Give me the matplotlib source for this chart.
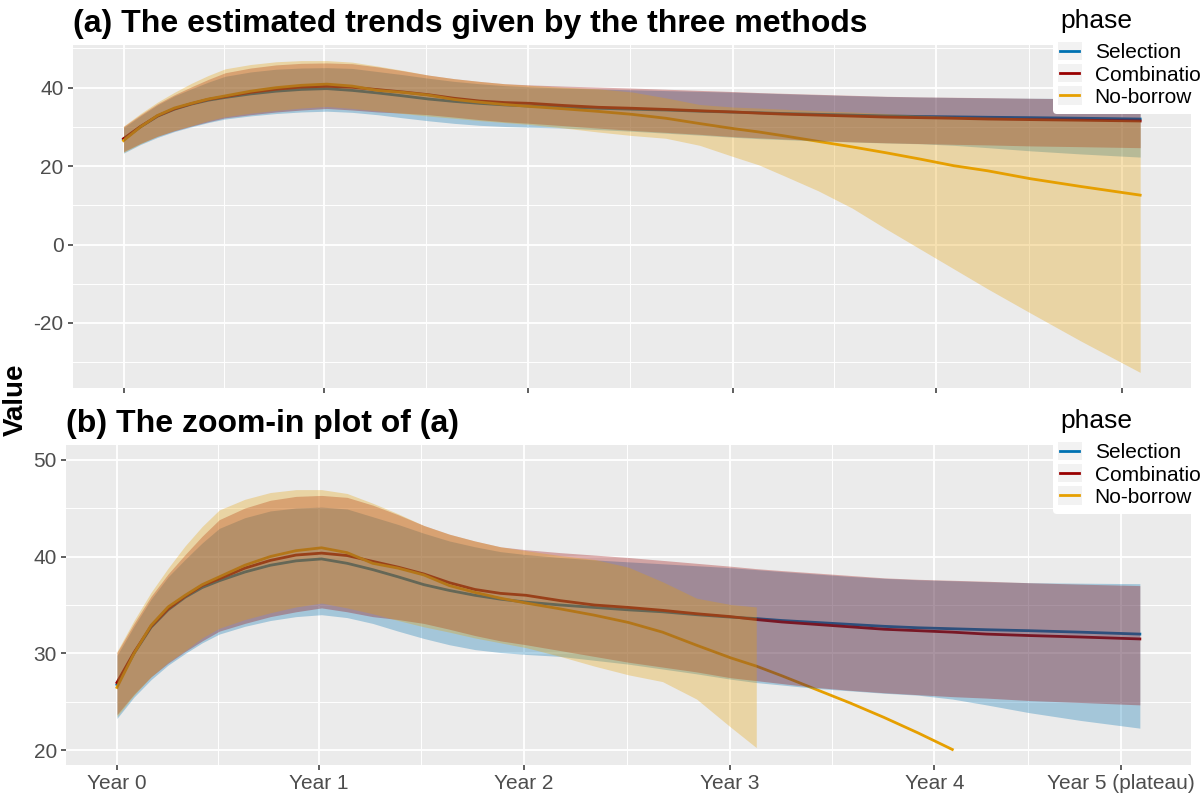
import matplotlib
matplotlib.use('Agg')
import matplotlib.pyplot as plt
import numpy as np
from matplotlib.patches import Rectangle
from matplotlib.lines import Line2D
from matplotlib.legend_handler import HandlerLine2D

plt.rcParams['font.family'] = ['Liberation Sans', 'DejaVu Sans']
plt.rcParams['axes.unicode_minus'] = False

# time axis (months since start)
months = [0, 1, 2, 3, 4, 5, 6, 7.5, 9, 10.5, 12, 13.5, 15, 16.5, 18, 19.5, 21, 22.5, 24, 26,
          28, 30, 32, 34, 36, 37.5, 39, 41, 43, 45, 47, 49, 51, 53.5, 56.5, 60]

# estimated trends
sel_mean = [26.8, 30.0, 32.7, 34.5, 35.8, 36.8, 37.5, 38.4, 39.1, 39.55, 39.75, 39.3, 38.65, 37.9, 37.1, 36.5, 36.0, 35.6, 35.3, 35.0,
            34.75, 34.5, 34.3, 34.0, 33.75, 33.6, 33.4, 33.2, 33.0, 32.8, 32.65, 32.55, 32.45, 32.35, 32.2, 32.0]
comb_mean = [27.0, 30.1, 32.8, 34.6, 35.9, 37.0, 37.7, 38.8, 39.6, 40.15, 40.35, 40.1, 39.5, 38.9, 38.2, 37.3, 36.6, 36.2, 36.0, 35.45,
             35.0, 34.75, 34.45, 34.1, 33.8, 33.5, 33.25, 33.0, 32.75, 32.5, 32.35, 32.2, 32.0, 31.85, 31.7, 31.5]
nob_mean = [26.5, 30.0, 32.9, 34.8, 36.0, 37.1, 37.9, 39.1, 40.0, 40.6, 40.9, 40.4, 39.3, 38.8, 38.1, 37.0, 36.3, 35.7, 35.2, 34.6,
            33.95, 33.2, 32.2, 30.85, 29.55, 28.7, 27.7, 26.3, 24.9, 23.4, 21.8, 20.1, 18.8, 16.8, 14.8, 12.6]

# credible bands
sel_lo = [23.3, 25.5, 27.3, 28.8, 30.0, 31.1, 32.0, 32.8, 33.4, 33.8, 34.0, 33.7, 33.1, 32.3, 31.55, 30.9, 30.4, 30.1, 29.9, 29.7,
          29.3, 28.9, 28.4, 27.9, 27.35, 27.0, 26.75, 26.4, 26.15, 25.9, 25.7, 25.3, 24.7, 23.9, 23.1, 22.3]
sel_hi = [29.8, 32.8, 35.6, 37.9, 39.7, 41.4, 42.9, 44.0, 44.7, 45.0, 45.1, 44.9, 44.1, 43.3, 42.4, 41.6, 41.0, 40.5, 40.2, 39.9,
          39.65, 39.45, 39.25, 39.05, 38.85, 38.65, 38.45, 38.2, 37.95, 37.75, 37.6, 37.5, 37.4, 37.3, 37.25, 37.2]
comb_lo = [23.7, 25.8, 27.6, 29.0, 30.2, 31.3, 32.3, 33.1, 33.8, 34.3, 34.7, 34.3, 33.8, 33.5, 33.1, 32.5, 31.85, 31.3, 30.9, 30.3,
           29.7, 29.1, 28.6, 28.1, 27.5, 27.2, 26.9, 26.5, 26.2, 25.95, 25.75, 25.55, 25.4, 25.15, 24.95, 24.7]
comb_hi = [30.1, 33.1, 35.9, 38.2, 40.2, 42.1, 43.8, 45.0, 45.8, 46.2, 46.3, 46.1, 45.3, 44.3, 43.2, 42.3, 41.6, 41.0, 40.7, 40.4,
           40.15, 39.9, 39.6, 39.3, 39.0, 38.75, 38.55, 38.3, 38.05, 37.8, 37.65, 37.55, 37.45, 37.3, 37.15, 37.0]
nob_lo = [23.5, 25.7, 27.6, 29.1, 30.3, 31.6, 32.6, 33.5, 34.2, 34.8, 35.2, 34.7, 34.1, 33.4, 32.75, 32.2, 31.6, 31.1, 30.6, 29.7,
          28.7, 27.8, 27.1, 25.3, 22.4, 20.3, 17.5, 13.7, 9.3, 4.0, -1.1, -6.2, -11.3, -17.4, -24.6, -32.6]
nob_hi = [30.2, 33.4, 36.3, 38.8, 41.1, 43.1, 44.8, 45.9, 46.6, 46.9, 46.9, 46.5, 45.5, 44.4, 43.2, 42.3, 41.6, 41.0, 40.6, 40.1,
          39.7, 38.9, 37.4, 35.7, 35.05, 34.8, 34.5, 34.1, 33.8, 33.4, 33.0, 32.7, 32.5, 32.3, 32.05, 31.8]

phases = ['Selection', 'Combination', 'No-borrow']
colors = ['#0072B2', '#990000', '#E69F00']
means = [sel_mean, comb_mean, nob_mean]
lows = [sel_lo, comb_lo, nob_lo]
highs = [sel_hi, comb_hi, nob_hi]

year_pos = [0, 11.85, 23.85, 35.95, 47.95, 58.9]
year_labels = ['Year 0', 'Year 1', 'Year 2', 'Year 3', 'Year 4', 'Year 5 (plateau)']


class KeyHandler(HandlerLine2D):
    # grey key background like ggplot
    def create_artists(self, legend, orig_handle, xdescent, ydescent, width, height, fontsize, trans):
        extra = legend.labelspacing * fontsize / 2 + 0.2
        bg = Rectangle((-xdescent - 2, -ydescent - extra), width + 4, height + 2 * extra,
                       facecolor='#F2F2F2', edgecolor='none', transform=trans)
        arts = super().create_artists(legend, orig_handle, xdescent, ydescent, width, height, fontsize, trans)
        return [bg] + arts


def draw_panel(ax, limits=None):
    x = np.array(months)
    for m, c in zip(means, colors):
        m = np.array(m, dtype=float)
        keep = np.ones(len(x), bool)
        if limits:
            keep = (m >= limits[0]) & (m <= limits[1])
        ax.plot(x[keep], m[keep], color=c, lw=2, zorder=2)
    for lo, hi, c in zip(lows, highs, colors):
        lo = np.array(lo, dtype=float)
        hi = np.array(hi, dtype=float)
        keep = np.ones(len(x), bool)
        if limits:
            keep = (lo >= limits[0]) & (hi <= limits[1])
        ax.fill_between(x[keep], lo[keep], hi[keep], color=c, alpha=0.3, lw=0, zorder=3)

    ax.set_facecolor('#EBEBEB')
    for s in ax.spines.values():
        s.set_visible(False)
    ax.set_axisbelow(True)
    ax.set_xlim(-3, 63)
    ax.set_xticks(year_pos)
    ax.set_xticks([(a + b) / 2 for a, b in zip(year_pos[:-1], year_pos[1:])], minor=True)
    ax.grid(which='major', color='white', lw=1.3)
    ax.grid(which='minor', color='white', lw=0.7)
    ax.tick_params(which='major', length=3.5, width=1.1, color='#333333',
                   labelsize=15, labelcolor='#4D4D4D', pad=3)
    ax.tick_params(which='minor', length=0)

    handles = [Line2D([], [], color=c, lw=2) for c in colors]
    leg = ax.legend(handles, phases, title='phase', loc='upper left',
                    bbox_to_anchor=(1053 / 1200, ax.get_position().y1 + 43 / 800),
                    bbox_transform=fig.transFigure, frameon=True, fontsize=15,
                    title_fontsize=19, handlelength=0.9, handletextpad=0.75,
                    labelspacing=0.15, borderpad=0.35, borderaxespad=0,
                    handler_map={Line2D: KeyHandler()})
    leg.get_frame().set_facecolor('white')
    leg.get_frame().set_edgecolor('none')
    leg.get_frame().set_alpha(1)
    leg._legend_box.align = 'left'
    leg._legend_box.sep = 7.3
    leg.set_zorder(10)


fig = plt.figure(figsize=(12, 8), dpi=100)
ax_a = fig.add_axes([72.7 / 1200, 1 - 388 / 800, (1191 - 72.7) / 1200, (388 - 45) / 800])
ax_b = fig.add_axes([65.8 / 1200, 1 - 765 / 800, (1191 - 65.8) / 1200, (765 - 445) / 800])

# panel (a): all values
draw_panel(ax_a)
ymin = min(min(v) for v in lows)
ymax = max(max(v) for v in highs)
pad = 0.05 * (ymax - ymin)
ax_a.set_ylim(ymin - pad, ymax + pad)
ax_a.set_yticks([-20, 0, 20, 40])
ax_a.set_yticks([-30, -10, 10, 30, 50], minor=True)
ax_a.tick_params(labelbottom=False)
ax_a.set_title('(a) The estimated trends given by the three methods', loc='left',
               fontsize=23, fontweight='bold', pad=9.5)

# panel (b): zoom to 20-50
draw_panel(ax_b, limits=(20, 50))
ax_b.set_ylim(18.5, 51.5)
ax_b.set_yticks([20, 30, 40, 50])
ax_b.set_yticks([25, 35, 45], minor=True)
ax_b.set_xticklabels(year_labels)
ax_b.set_title('(b) The zoom-in plot of (a)', loc='left',
               fontsize=23, fontweight='bold', pad=9.5)

fig.text(16 / 1200, 1 - 400 / 800, 'Value', rotation=90, fontsize=20,
         fontweight='bold', ha='center', va='center')

fig.savefig('out.png', dpi=100)
